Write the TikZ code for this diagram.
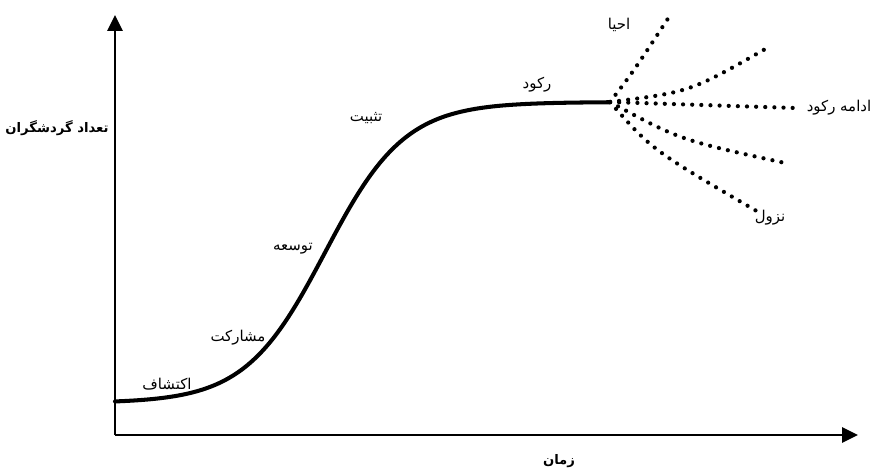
\documentclass[tikz,border=0pt]{standalone}
\usepackage{fontspec}
\usetikzlibrary{arrows.meta}
\newfontfamily\farsi[Script=Arabic]{DejaVu Sans}
\TeXXeTstate=1

\begin{document}
\begin{tikzpicture}[x=0.02cm, y=-0.02cm, font=\farsi\fontsize{8.5}{10}\selectfont,
  axisline/.style={line width=1.6pt, -{Triangle[length=9pt,width=8.5pt]}},
  axislabel/.style={font=\farsi\bfseries\fontsize{7.5}{9}\selectfont},
  future/.style={line width=2.4pt, line cap=round, dash pattern=on 0pt off 5.2pt}]
\useasboundingbox (0,0) rectangle (871,468);

% axes
\coordinate (origin) at (115,435);
\coordinate (ytip) at (115,15);
\coordinate (xtip) at (858,435);
\draw[axisline] (origin) -- (ytip);
\draw[axisline] (origin) -- (xtip);
\node[axislabel] (ylab) at (57,128) {\beginR تعداد گردشگران\endR};
\node[axislabel] (xlab) at (559,461) {\beginR زمان\endR};

% life cycle curve
\coordinate (stag) at (610,102);
\draw[line width=2.3pt, line cap=round] plot[smooth, domain=115:610, samples=80] (\x,{403-301/(1+exp(-(\x-325)/40))});

% stage labels
\node (expl) at (167,384) {\beginR اکتشاف\endR};
\node (invol) at (238,338) {\beginR مشارکت\endR};
\node (devel) at (293,249) {\beginR توسعه\endR};
\node (consol) at (366,118) {\beginR تثبیت\endR};
\node (stagn) at (537,85) {\beginR رکود\endR};

% possible futures
\coordinate (f1) at (669,17);
\coordinate (f2) at (767,48);
\coordinate (f3) at (795,108);
\coordinate (f4) at (785,163);
\coordinate (f5) at (760,213);
\draw[future] (stag) .. controls (633,72) .. (f1);
\draw[future] (stag) .. controls (690,92) .. (f2);
\draw[future] (stag) -- (f3);
\draw[future] (stag) .. controls (680,140) .. (f4);
\draw[future] (stag) .. controls (652,150) .. (f5);
\node (rejuv) at (619,25) {\beginR احیا\endR};
\node (contin) at (839,108) {\beginR ادامه رکود\endR};
\node (decl) at (770,218) {\beginR نزول\endR};

\end{tikzpicture}
\end{document}
